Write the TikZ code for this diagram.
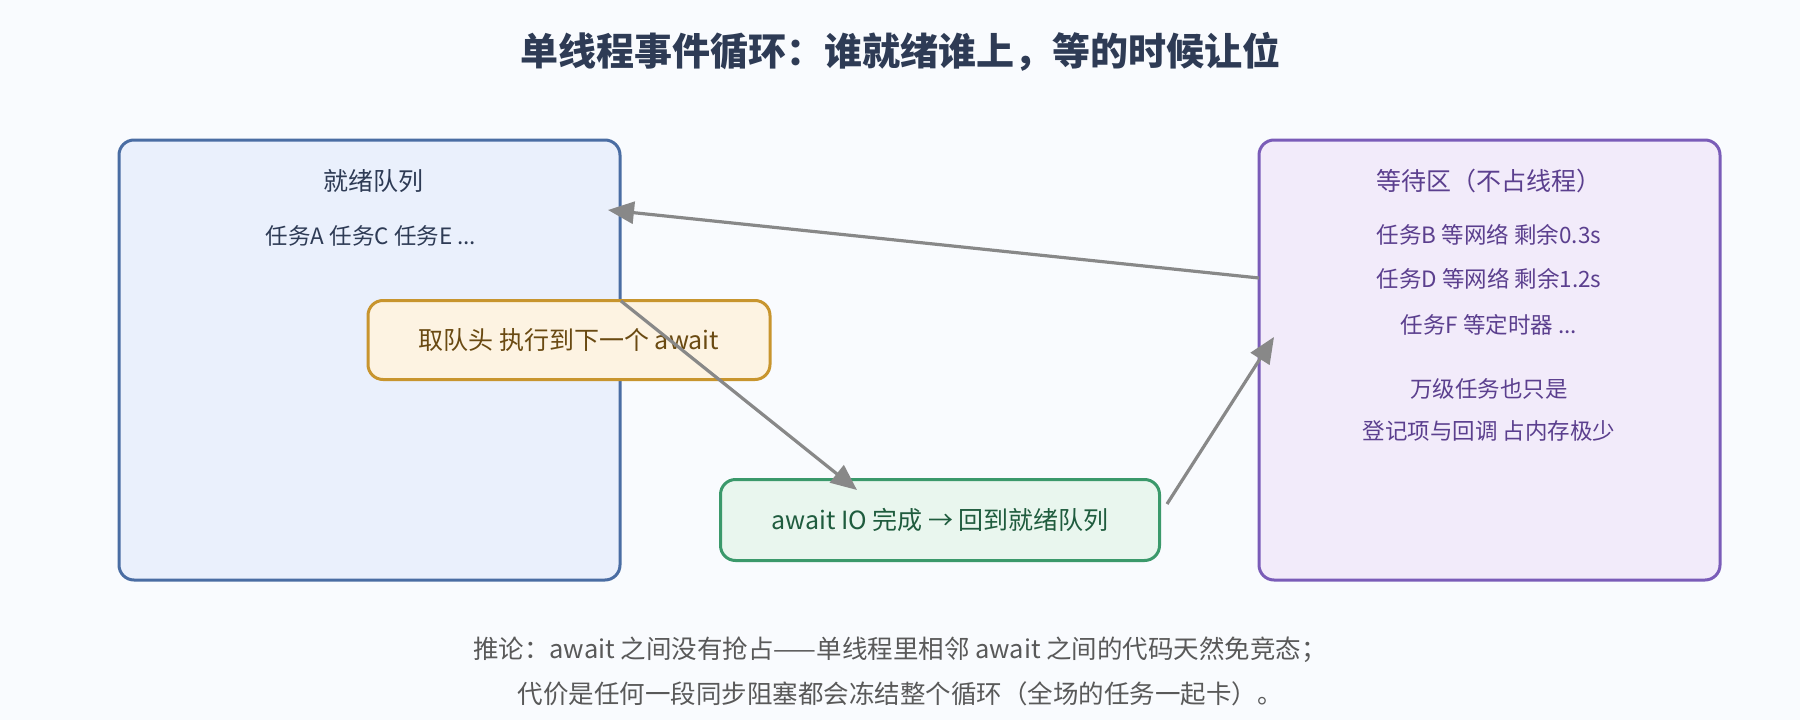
\documentclass[tikz,border=0pt]{standalone}
\usepackage{fontspec}
\setmainfont{Noto Sans CJK SC}
\usetikzlibrary{arrows.meta}
\definecolor{bg}{HTML}{F9FBFE}
\definecolor{lfill}{HTML}{EAF0FC}\definecolor{lline}{HTML}{4A6DA3}
\definecolor{rfill}{HTML}{F2EBFA}\definecolor{rline}{HTML}{7A5CB8}
\definecolor{ofill}{HTML}{FDF3E2}\definecolor{oline}{HTML}{C8952E}
\definecolor{gfill}{HTML}{E9F6EE}\definecolor{gline}{HTML}{3B996B}
\definecolor{ltext}{HTML}{2E3B55}\definecolor{rtext}{HTML}{5B3F8E}
\definecolor{otext}{HTML}{6A4A12}\definecolor{gtext}{HTML}{1F5C3E}
\definecolor{arr}{HTML}{888888}
\begin{document}
\begin{tikzpicture}[x=1pt,y=-1pt,
 box/.style={rounded corners=15pt,line width=3pt},
 t/.style={font=\fontsize{25}{30}\selectfont,inner sep=0},
 s/.style={font=\fontsize{22.5}{27}\selectfont},
 a/.style={draw=arr,line width=3.2pt,-{Triangle[length=26pt,width=22pt]}}]
\fill[bg] (0,0) rectangle (1800,720);
\useasboundingbox (0,0) rectangle (1800,720);
\node[font=\fontsize{38}{44}\selectfont\bfseries,text=ltext] (title) at (900,52) {单线程事件循环：谁就绪谁上，等的时候让位};
\draw[box,fill=lfill,draw=lline] (119,140) rectangle (620,580);
\draw[box,fill=rfill,draw=rline] (1259,140) rectangle (1720,580);
\node[t,text=ltext] (lt) at (373,181) {就绪队列};
\node[t,s,text=ltext] (ll) at (371,236) {任务A 任务C 任务E ...};
\node[t,text=rtext] (rt) at (1489,181) {等待区（不占线程）};
\node[t,s,text=rtext] (r1) at (1489,235) {任务B 等网络 剩余0.3s};
\node[t,s,text=rtext] (r2) at (1489,279) {任务D 等网络 剩余1.2s};
\node[t,s,text=rtext] (r3) at (1489,325) {任务F 等定时器 ...};
\node[t,s,text=rtext] (r4) at (1489,389) {万级任务也只是};
\node[t,s,text=rtext] (r5) at (1489,431) {登记项与回调 占内存极少};
\node[box,fill=ofill,draw=oline,minimum width=402pt,minimum height=79pt,t,text=otext] (run) at (569,340) {取队头 执行到下一个 await};
\node[box,fill=gfill,draw=gline,minimum width=439pt,minimum height=81pt,t,text=gtext] (io) at (940,520) {await IO 完成 → 回到就绪队列};
\coordinate (a1s) at (1259,278); \coordinate (a1e) at (608,210);
\coordinate (a2s) at (621,301); \coordinate (a2e) at (857,490);
\coordinate (a3s) at (1167,504); \coordinate (a3e) at (1274,337);
\draw[a] (a1s) -- (a1e);
\draw[a] (a2s) -- (a2e);
\draw[a] (a3s) -- (a3e);
\node[t,text=black!65,font=\fontsize{25.5}{30}\selectfont] (n1) at (900,650) {推论：await 之间没有抢占——单线程里相邻 await 之间的代码天然免竞态；};
\node[t,text=black!65,font=\fontsize{25.5}{30}\selectfont] (n2) at (900,694) {代价是任何一段同步阻塞都会冻结整个循环（全场的任务一起卡）。};
\end{tikzpicture}
\end{document}
